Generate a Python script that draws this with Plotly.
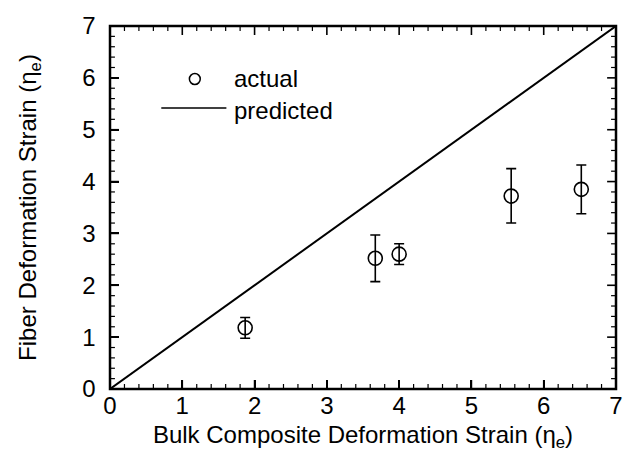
import plotly.graph_objects as go

# Measured fiber strain vs bulk composite strain
bulk_strain = [1.87, 3.67, 4.00, 5.55, 6.52]
fiber_strain = [1.18, 2.52, 2.60, 3.72, 3.85]
err_plus = [0.20, 0.45, 0.20, 0.53, 0.47]
err_minus = [0.20, 0.45, 0.20, 0.52, 0.47]

# Affine (predicted) deformation: fiber strain equals bulk strain
pred_x = [0, 7]
pred_y = [0, 7]

major_ticks = [0, 1, 2, 3, 4, 5, 6, 7]
minor_ticks = [i / 5 for i in range(1, 35) if i % 5]

legend_labels = ["actual", "predicted"]

FONT = "Liberation Sans"
FS = 24
label_font = dict(family=FONT, size=FS, color="black")

W, H = 631, 464
ML, MR, MT, MB = 110, 8, 26, 75
AX_MAX = 7
# data units per pixel along each axis, for inward tick lengths
ux = AX_MAX / (W - ML - MR)
uy = AX_MAX / (H - MT - MB)

fig = go.Figure()

fig.add_trace(go.Scatter(
    x=pred_x, y=pred_y, mode="lines",
    line=dict(color="black", width=2),
    showlegend=False, cliponaxis=False,
))

fig.add_trace(go.Scatter(
    x=bulk_strain, y=fiber_strain, mode="markers",
    marker=dict(symbol="circle-open", size=14, color="black",
                line=dict(width=1.6, color="black")),
    error_y=dict(type="data", symmetric=False, array=err_plus,
                 arrayminus=err_minus, color="black", thickness=1.6, width=5),
    showlegend=False,
))

axis_base = dict(range=[0, AX_MAX], tickmode="linear", tick0=0, dtick=1,
                 showgrid=False, zeroline=False, showline=False,
                 ticks="inside", ticklen=9, tickwidth=1.6, tickcolor="black",
                 tickfont=label_font)

fig.update_layout(
    width=W, height=H,
    margin=dict(l=ML, r=MR, t=MT, b=MB),
    plot_bgcolor="white", paper_bgcolor="white",
    xaxis=dict(axis_base,
               title=dict(text="Bulk Composite Deformation Strain (η<sub>e</sub>)",
                          font=label_font, standoff=8)),
    yaxis=dict(axis_base, ticksuffix="\u00a0\u00a0",
               title=dict(text="Fiber Deformation Strain (η<sub>e</sub>)",
                          font=label_font, standoff=38)),
)

# Inward tick marks on all four sides, placed on the data scale
for vals, length, width in [(major_ticks, 9, 1.6), (minor_ticks, 5, 1.2)]:
    ly, lx = length * uy, length * ux
    for v in vals:
        for base_y, dy in [(0, ly), (AX_MAX, -ly)]:
            fig.add_shape(type="line", xref="x", yref="y",
                          x0=v, x1=v, y0=base_y, y1=base_y + dy,
                          line=dict(color="black", width=width))
        for base_x, dx in [(0, lx), (AX_MAX, -lx)]:
            fig.add_shape(type="line", xref="x", yref="y",
                          y0=v, y1=v, x0=base_x, x1=base_x + dx,
                          line=dict(color="black", width=width))

# Plot frame
fig.add_shape(type="rect", xref="paper", yref="paper", x0=0, x1=1, y0=0, y1=1,
              line=dict(color="black", width=2.5))

# Hand-placed key inside the plot area
fig.add_shape(type="circle", xref="paper", yref="paper",
              x0=(196 - 5.5 - ML) / 513, x1=(196 + 5.5 - ML) / 513,
              y0=(389 - 79 - 5.5) / 363, y1=(389 - 79 + 5.5) / 363,
              line=dict(color="black", width=1.5))
fig.add_shape(type="line", xref="paper", yref="paper",
              x0=(162 - ML) / 513, x1=(228 - ML) / 513,
              y0=(389 - 108) / 363, y1=(389 - 108) / 363,
              line=dict(color="black", width=1.5))
for label, ypx in zip(legend_labels, [78, 110]):
    fig.add_annotation(text=label, xref="paper", yref="paper",
                       x=(234 - ML) / 513, y=(389 - ypx) / 363,
                       xanchor="left", yanchor="middle", showarrow=False,
                       font=label_font)

fig.write_html("out.html")
